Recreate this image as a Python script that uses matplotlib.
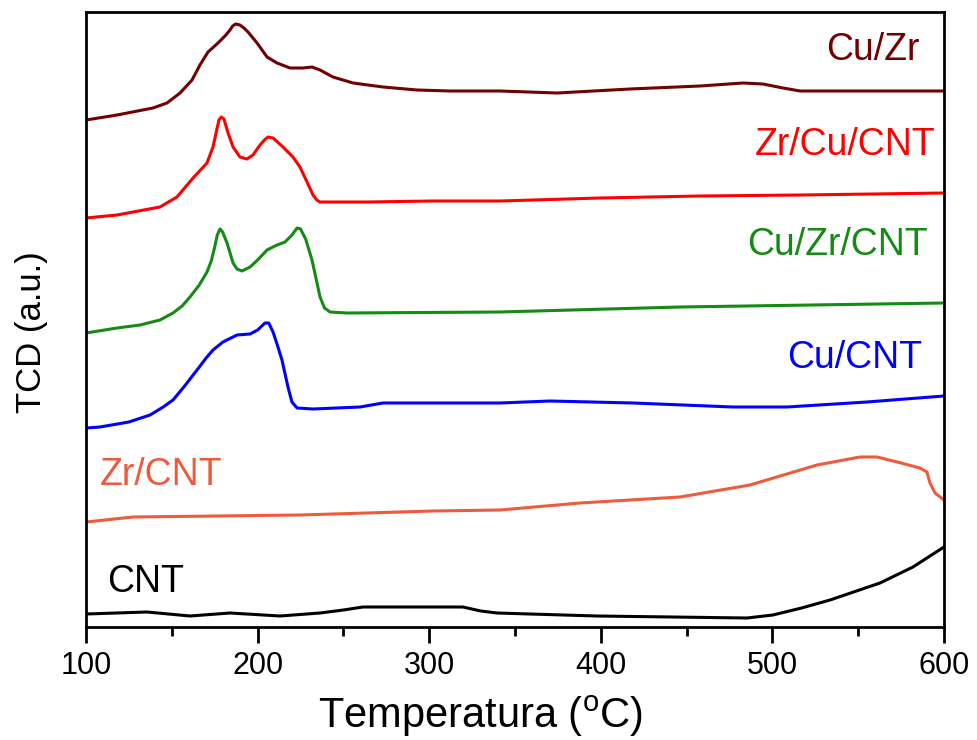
import matplotlib
matplotlib.use("Agg")
import matplotlib.pyplot as plt
from matplotlib.ticker import MultipleLocator, NullLocator

plt.rcParams['font.family'] = ['Liberation Sans', 'DejaVu Sans']
plt.rcParams['mathtext.fontset'] = 'custom'
plt.rcParams['mathtext.rm'] = 'Liberation Sans'
plt.rcParams['mathtext.it'] = 'Liberation Sans:italic'

# ---- data (temperature in degC, TCD signal in arbitrary units, offset curves) ----
cuzr_T = [100, 118.1, 139.0, 147.2, 154.8, 161.8, 166.4, 171.1, 175.0, 178.1, 181.5, 183.9, 185.5, 187.2, 189.7,
          192.0, 194.4, 199.7, 205.5, 211.3, 218.9, 226.5, 231.7, 236.4, 243.9, 255.6, 273.1, 292.9,
          312.1, 341.3, 374.5, 417.0, 457.8, 482.9, 494.5, 506.2, 516.1, 600]
cuzr_y = [507, 512, 519, 524, 534, 547, 562, 575, 581, 586, 592, 597, 601, 603, 602,
          599, 595, 584, 570, 564, 559, 559, 560, 557, 550, 544, 540, 537,
          536, 536, 534, 538, 541, 544, 543, 539, 536, 536]

zrcucnt_T = [100, 118.1, 143.1, 153.0, 162.4, 170.5, 174.0, 176.3, 177.5, 178.8, 180.4, 182.8, 185.7,
             189.7, 193.8, 197.3, 201.4, 204.0, 206.1, 209.0, 214.8, 220.6, 224.7, 228.8, 232.3, 234.5, 236.4,
             243.9, 263.8, 302.2, 341.3, 399.5, 457.8, 516.1, 600]
zrcucnt_y = [409, 412, 420, 430, 449, 464, 480, 498, 507, 510, 508, 494, 480,
             470, 468, 472, 482, 487, 490, 489, 480, 470, 460, 445, 432, 427, 425,
             425, 425, 426, 426, 429, 431, 432, 434]

cuzrcnt_T = [100, 118.1, 131.5, 143.1, 150.7, 156.0, 160.6, 166.0, 170.5, 173.0, 175.0, 176.5, 178.1, 179.6,
             182.2, 185.7, 188.0, 190.9, 195.6, 200.0, 205.5, 211.3, 216.0, 220.0, 223.0, 225.0,
             228.0, 231.7, 236.4, 239.0, 242.2, 252.1, 341.3, 446.2, 600]
cuzrcnt_y = [294, 299, 302, 307, 314, 321, 330, 342, 355, 366, 380, 392, 398, 395,
             384, 364, 358, 356, 360, 367, 377, 382, 385, 392, 399, 398,
             388, 367, 330, 319, 315, 314, 315, 320, 324]

cucnt_T = [100, 108.2, 125.0, 137.3, 145.0, 150.7, 157.0, 164.7, 170.0, 174.0, 179.8, 188.0, 195.6, 200.0,
           204.3, 206.5, 209.0, 211.5, 214.2, 217.7, 220.0, 223.0, 232.3, 259.7, 273.1, 341.3, 370.4,
           418.8, 477.0, 508.5, 555.1, 600]
cucnt_y = [199, 200, 205, 212, 220, 227, 240, 257, 269, 277, 285, 292, 293, 297,
           304, 304, 295, 282, 267, 240, 225, 219, 218, 220, 224, 224, 226,
           224, 220, 220, 225, 231]

zrcnt_T = [100, 127.4, 224.7, 302.2, 341.3, 387.9, 446.2, 486.9, 526.0, 551.0, 561.0,
           575.0, 586.0, 590.1, 591.8, 594.8, 600]
zrcnt_y = [105, 110, 112, 116, 117, 124, 130, 142, 162, 170, 170,
           164, 159, 155, 144, 134, 127]

cnt_T = [100, 135.5, 160.6, 183.9, 213.1, 236.4, 250.0, 261.4, 319.7, 330.0, 339.5, 358.7, 397.8, 485.2,
         500.3, 517.0, 533.6, 562.7, 581.9, 600]
cnt_y = [13, 15, 11, 14, 11, 14, 17, 20, 20, 16, 14, 13, 11, 9,
         12, 19, 27, 44, 60, 80]

labels = ['Cu/Zr', 'Zr/Cu/CNT', 'Cu/Zr/CNT', 'Cu/CNT', 'Zr/CNT', 'CNT']
colors = ['#720000', '#ff0000', '#158a15', '#0000ff', '#f05a3c', '#000000']

# ---- figure ----
fig = plt.figure(figsize=(9.78, 7.40), dpi=100)
ax = fig.add_axes([86/978, 113/740, 858/978, 615/740])

series = [(cuzr_T, cuzr_y), (zrcucnt_T, zrcucnt_y), (cuzrcnt_T, cuzrcnt_y),
          (cucnt_T, cucnt_y), (zrcnt_T, zrcnt_y), (cnt_T, cnt_y)]
for (T, y), c in zip(series, colors):
    ax.plot(T, y, color=c, lw=2.2, solid_joinstyle='round', solid_capstyle='round')

ax.set_xlim(100, 600)
ax.set_ylim(0, 615)

# curve labels
fs_lab = 27
ax.text(586.0, 567, labels[0], color=colors[0], fontsize=fs_lab, ha='right', va='baseline')
ax.text(594.8, 472, labels[1], color=colors[1], fontsize=fs_lab, ha='right', va='baseline')
ax.text(590.7, 372, labels[2], color=colors[2], fontsize=fs_lab, ha='right', va='baseline')
ax.text(587.2, 259, labels[3], color=colors[3], fontsize=fs_lab, ha='right', va='baseline')
ax.text(108.2, 142, labels[4], color=colors[4], fontsize=fs_lab, ha='left', va='baseline')
ax.text(112.2, 35, labels[5], color=colors[5], fontsize=fs_lab, ha='left', va='baseline')

# axes styling
for s in ax.spines.values():
    s.set_linewidth(2.0)
ax.xaxis.set_major_locator(MultipleLocator(100))
ax.xaxis.set_minor_locator(MultipleLocator(50))
ax.yaxis.set_major_locator(NullLocator())
ax.tick_params(axis='x', which='major', direction='out', length=11.5, width=2.0,
               labelsize=22, pad=6)
ax.tick_params(axis='x', which='minor', direction='out', length=6.5, width=2.0)

ax.set_xlabel('Temperatura ($^{\\mathrm{o}}$C)', fontsize=30)
ax.xaxis.set_label_coords(0.46, -0.108)
ax.set_ylabel('TCD (a.u.)', fontsize=25)
ax.yaxis.label.set_va('center')
ax.yaxis.set_label_coords(-0.064, 0.48)

fig.savefig('out.png', dpi=100)
